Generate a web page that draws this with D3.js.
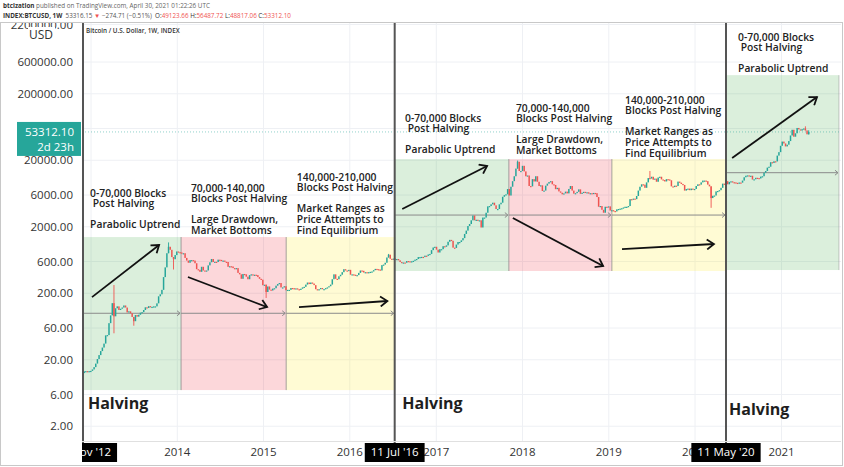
<!DOCTYPE html>
<html>
<head>
<meta charset="utf-8">
<script src="https://cdn.jsdelivr.net/npm/d3@7"></script>
<style>
  body { margin: 0; background: #fff; }
  svg { display: block; font-family: "Open Sans", sans-serif; }
  .note { white-space: pre; }
</style>
</head>
<body>
<svg width="844" height="467"></svg>
<script>
// weekly closes (USD), first candle = week of Mon 26 Nov 2012
var firstWeek = "2012-11-26";
var firstOpen = 12.3;
var lastOpen = 49123.66;
var closes2012 = [12.6, 13.4, 13.5, 13.4, 13.5];
var closes2013 = [13.6, 14.3, 15.5, 17.5, 20.5, 23.5, 27, 30.5, 35, 46.5, 47, 71, 93, 142, 90, 119, 127, 112, 117, 122, 131,
    122, 103, 107, 100, 88, 76, 94, 89, 95, 102, 104, 112, 123, 120, 128, 124, 125, 127, 127, 141, 180, 193,
    225, 350, 490, 800, 1000, 900, 700, 650, 750];
var closes2014 = [850, 830, 820, 800, 800, 680, 620, 575, 630, 630, 620, 565, 460, 450, 420, 500, 440, 430, 440, 525, 585,
    655, 590, 595, 590, 640, 635, 620, 620, 595, 590, 500, 510, 505, 478, 475, 478, 405, 385, 330, 390, 385, 355,
    325, 375, 385, 375, 380, 375, 350, 330, 320];
var closes2015 = [264, 269, 209, 253, 227, 220, 235, 238, 260, 275, 285, 245, 245, 255, 222, 225, 225, 240, 238, 237, 237,
    230, 224, 234, 245, 250, 270, 290, 275, 290, 280, 265, 230, 228, 230, 240, 230, 231, 239, 245, 255, 270, 325,
    385, 330, 325, 360, 380, 415, 460, 440, 430];
var closes2016 = [450, 380, 385, 380, 370, 375, 405, 440, 435, 410, 415, 410, 415, 420, 425, 445, 465, 460, 455, 440, 530,
    540, 575, 690, 760, 660, 650, 665, 650, 655, 625, 590, 570, 580, 575, 610, 605, 600, 605, 615, 640, 655, 700,
    700, 705, 700, 735, 730, 765, 780, 890, 975];
var closes2017 = [1000, 905, 820, 920, 920, 1020, 1000, 1050, 1190, 1270, 1230, 970, 960, 1080, 1180, 1180, 1250, 1350,
    1560, 1750, 2050, 2200, 2500, 2950, 2500, 2550, 2500, 2500, 1950, 2750, 2750, 3250, 4050, 4100, 4350, 4600,
    4200, 3700, 3700, 4350, 4600, 5650, 5980, 6150, 7380, 5900, 8000, 9700, 11500, 15000, 19000, 13800, 13800];
var closes2018 = [16500, 13600, 11500, 11800, 8200, 8100, 10400, 9600, 11500, 9500, 8200, 8400, 6900, 7000, 8300, 8900,
    9400, 9700, 8700, 8500, 7350, 7700, 6800, 6500, 6150, 6350, 6750, 6350, 7400, 8200, 7000, 6300, 6400, 6700,
    7300, 6250, 6500, 6700, 6600, 6600, 6300, 6400, 6350, 6450, 6400, 5600, 4000, 4100, 3600, 3250, 4000, 3900];
var closes2019 = [4050, 3500, 3550, 3450, 3400, 3650, 3700, 3750, 3800, 3900, 4000, 4000, 4100, 5200, 5100, 5300, 5200,
    5800, 7000, 8000, 8700, 8600, 7700, 9300, 10800, 10600, 11300, 10200, 10600, 9500, 11000, 11300, 10300, 10100,
    9600, 10400, 10300, 10000, 8100, 7900, 8300, 8200, 9550, 9200, 8800, 8500, 7000, 7400, 7500, 7100, 7500, 7400];
var closes2020 = [7400, 8200, 8700, 8600, 9300, 9900, 9900, 9700, 8600, 8100, 5400, 5850, 5900, 6800, 6900, 7100, 7700,
    8900, 8750, 9700, 8700, 9450, 9650, 9350, 9300, 9150, 9100, 9250, 9200, 9900, 11100, 11700, 11850, 11650,
    11700, 10250, 10350, 10900, 10800, 10650, 11350, 11500, 13000, 13800, 15500, 16000, 18700, 18200, 19300,
    19200, 23500, 26500];
var closes2021 = [33000, 38200, 35800, 32300, 34300, 38900, 47200, 57500, 45200, 50900, 61200, 58300, 55900, 58800,
    60100, 56200, 49100, 53312.10];
// notable wicks: [week start, high, low]
var wicks = [["2013-04-08", 266, 50], ["2013-07-01", null, 65], ["2013-11-25", 1163, null], ["2013-12-16", null, 455],
    ["2015-01-12", null, 170], ["2016-06-13", 780, null], ["2017-12-11", 19800, null], ["2019-06-24", 13800, null],
    ["2020-03-09", null, 3850], ["2021-04-12", 64800, null], ["2021-04-26", 56487.72, 48817.06]];

var halvings = ["2012-11-28", "2016-07-09", "2020-05-11"];
var halvingTags = ["28 Nov '12", "11 Jul '16", "11 May '20"];
var halvingLabelDates = ["2012-12-19", "2016-08-10", "2020-05-24"];
var halvingLabelPrices = [4.47, 4.47, 3.63];
var yearTicks = [2013, 2014, 2015, 2016, 2017, 2018, 2019, 2020, 2021];
var priceTicks = [2, 6, 20, 60, 200, 600, 2000, 6000, 20000, 60000, 200000, 600000, 2200000];
var lastPrice = 53312.10;
var countdown = "2d 23h";

// phases of each halving cycle
var phaseKinds = ["up", "down", "range", "up", "down", "range", "up"];
var phaseStarts = ["2012-11-28", "2014-01-17", "2015-04-07", "2016-07-09", "2017-11-04", "2019-01-14", "2020-05-11"];
var phaseEnds = ["2014-01-17", "2015-04-07", "2016-07-09", "2017-11-04", "2019-01-14", "2020-05-11", "2021-09-01"];
var phaseHigh = [1400, 1400, 1400, 20800, 20800, 20800, 381000];
var phaseLow = [7, 7, 7, 432, 432, 432, 447];
var phaseMid = [100, 100, 100, 3000, 3000, 3000, 13000];
var upNote = ["0-70,000 Blocks", " Post Halving", "", "Parabolic Uptrend"];
var downNote = ["70,000-140,000", "Blocks Post Halving", "", "Large Drawdown,", "Market Bottoms"];
var rangeNote = ["140,000-210,000", "Blocks Post Halving", "", "Market Ranges as", "Price Attempts to", "Find Equilibrium"];
var noteDates = ["2012-12-28", "2014-02-28", "2015-05-22", "2016-08-22", "2017-12-04", "2019-03-11", "2020-07-01"];
var notePrices = [6430, 7640, 11190, 86300, 122000, 161000, 1425000];
var arrowFrom = [["2013-01-05", 175], ["2014-02-15", 351], ["2015-05-31", 124], ["2016-08-10", 3695],
    ["2017-11-21", 2705], ["2019-02-26", 925], ["2020-06-06", 21600]];
var arrowTo = [["2013-10-16", 1063], ["2015-01-16", 124], ["2016-06-08", 153], ["2017-08-04", 16400],
    ["2018-12-08", 513], ["2020-03-21", 1100], ["2021-05-31", 178600]];

var publishLine = [["btcization", "#333", 700], [" published on TradingView.com, April 30, 2021 01:22:26 UTC", "#666", 400]];
var symbolLine = [["INDEX:BTCUSD, 1W", "#333", 700], ["  53316.15 ", "#555", 400], ["\u25BC", "#ef5350", 400],
    [" \u2212274.71 (\u22120.51%)  ", "#555", 400], ["O:", "#333", 400], ["49123.66", "#ef5350", 400],
    [" H:", "#333", 400], ["56487.72", "#ef5350", 400], [" L:", "#333", 400], ["48817.06", "#ef5350", 400],
    [" C:", "#333", 400], ["53312.10", "#ef5350", 400]];
var seriesTitle = "Bitcoin / U.S. Dollar, 1W, INDEX";

var svg, margin, width, height, xScale, yScale, g;
var parseDate = d3.utcParse("%Y-%m-%d");
var fmtDate = d3.utcFormat("%Y-%m-%d");
var phaseFill = {up: "rgba(76,175,80,0.2)", down: "rgba(242,54,69,0.2)", range: "rgba(255,235,59,0.22)"};
var noteText = {up: upNote, down: downNote, range: rangeNote};
var upColor = "#26a69a", downColor = "#ef5350";

function yearDate(y) {
    return new Date(Date.UTC(y, 0, 1));
}

function initLayout() {
    svg = d3.select("svg");
    margin = {top: 22, right: 3, bottom: 26, left: 82};
    width = +svg.attr("width") - margin.left - margin.right;
    height = +svg.attr("height") - margin.top - margin.bottom;

    xScale = d3.scaleUtc()
        .domain([parseDate(halvings[0]), parseDate(halvings[2])])
        .range([1, 644]);
    yScale = d3.scaleLog().domain([1.2, 2.4e6]).range([height, 0]);

    var defs = svg.append("defs");
    defs.append("clipPath").attr("id", "plotClip")
        .append("rect").attr("width", width).attr("height", height);
    defs.append("clipPath").attr("id", "yClip")
        .append("rect").attr("x", -margin.left).attr("y", 0).attr("width", margin.left).attr("height", height);
    defs.append("clipPath").attr("id", "xClip")
        .append("rect").attr("x", 0).attr("y", height).attr("width", width).attr("height", margin.bottom);
    defs.append("marker").attr("id", "arrowHead")
        .attr("markerUnits", "userSpaceOnUse")
        .attr("markerWidth", 12).attr("markerHeight", 12)
        .attr("refX", 8).attr("refY", 6).attr("orient", "auto")
        .append("path").attr("d", "M1,1 L8,6 L1,11")
        .attr("fill", "none").attr("stroke", "#111").attr("stroke-width", 1.8);
    defs.append("marker").attr("id", "rangeHead")
        .attr("markerUnits", "userSpaceOnUse")
        .attr("markerWidth", 6).attr("markerHeight", 6)
        .attr("refX", 4).attr("refY", 3).attr("orient", "auto")
        .append("path").attr("d", "M1,0.5 L4,3 L1,5.5")
        .attr("fill", "none").attr("stroke", "#888").attr("stroke-width", 1);

    g = svg.append("g")
        .attr("transform", "translate(" + [margin.left, margin.top] + ")");
}

function drawGrid() {
    var grid = g.append("g").attr("clip-path", "url(#plotClip)");
    grid.selectAll(".vgrid")
        .data(yearTicks)
        .enter().append("line")
        .attr("x1", function (d) { return xScale(yearDate(d)); })
        .attr("x2", function (d) { return xScale(yearDate(d)); })
        .attr("y1", 0).attr("y2", height)
        .attr("stroke", "#eef0f4");
    grid.selectAll(".hgrid")
        .data(priceTicks)
        .enter().append("line")
        .attr("x1", 0).attr("x2", width)
        .attr("y1", function (d) { return yScale(d); })
        .attr("y2", function (d) { return yScale(d); })
        .attr("stroke", "#eef0f4");
}

function drawPhases() {
    var layer = g.append("g").attr("clip-path", "url(#plotClip)");
    phaseKinds.forEach(function (kind, i) {
        var x0 = xScale(parseDate(phaseStarts[i])), x1 = xScale(parseDate(phaseEnds[i]));
        var y0 = yScale(phaseHigh[i]), y1 = yScale(phaseLow[i]);
        layer.append("rect")
            .attr("x", x0).attr("y", y0)
            .attr("width", x1 - x0).attr("height", y1 - y0)
            .attr("fill", phaseFill[kind]);
        [x0, x1].forEach(function (x) {
            layer.append("line")
                .attr("x1", x).attr("x2", x).attr("y1", y0).attr("y2", y1)
                .attr("stroke", "#9a9a9a").attr("stroke-opacity", 0.55);
        });
        layer.append("line")
            .attr("x1", x0).attr("x2", x1 - 1)
            .attr("y1", yScale(phaseMid[i])).attr("y2", yScale(phaseMid[i]))
            .attr("stroke", "#8a8a8a")
            .attr("marker-end", "url(#rangeHead)");
    });
}

function drawPriceLine() {
    g.append("line")
        .attr("x1", 0).attr("x2", width)
        .attr("y1", yScale(lastPrice)).attr("y2", yScale(lastPrice))
        .attr("stroke", upColor).attr("stroke-opacity", 0.5)
        .attr("stroke-dasharray", "1,2");
}

function drawCandles() {
    var closes = [].concat(closes2012, closes2013, closes2014, closes2015, closes2016,
        closes2017, closes2018, closes2019, closes2020, closes2021);
    var start = parseDate(firstWeek);
    var wickMap = {};
    wicks.forEach(function (w) { wickMap[w[0]] = w; });

    var data = closes.map(function (c, i) {
        var date = d3.utcDay.offset(start, 7 * i);
        var o = i === 0 ? firstOpen : (i === closes.length - 1 ? lastOpen : closes[i - 1]);
        var w = wickMap[fmtDate(date)];
        var hi = Math.max(o, c), lo = Math.min(o, c);
        if (w && w[1] != null) hi = Math.max(hi, w[1]);
        if (w && w[2] != null) lo = Math.min(lo, w[2]);
        return {date: date, open: o, close: c, high: hi, low: lo};
    });

    var step = xScale(d3.utcDay.offset(start, 7)) - xScale(start);
    var bw = Math.max(1, step * 0.9);
    var layer = g.append("g").attr("clip-path", "url(#plotClip)");

    layer.selectAll(".wick")
        .data(data.filter(function (d) { return d.high > Math.max(d.open, d.close) || d.low < Math.min(d.open, d.close); }))
        .enter().append("line")
        .attr("x1", function (d) { return xScale(d.date); })
        .attr("x2", function (d) { return xScale(d.date); })
        .attr("y1", function (d) { return yScale(d.high); })
        .attr("y2", function (d) { return yScale(d.low); })
        .attr("stroke", function (d) { return d.close >= d.open ? upColor : downColor; })
        .attr("stroke-width", 0.9);

    layer.selectAll(".candle")
        .data(data)
        .enter().append("rect")
        .attr("x", function (d) { return xScale(d.date) - bw / 2; })
        .attr("y", function (d) { return yScale(Math.max(d.open, d.close)); })
        .attr("width", bw)
        .attr("height", function (d) {
            return Math.max(1.2, yScale(Math.min(d.open, d.close)) - yScale(Math.max(d.open, d.close)));
        })
        .attr("fill", function (d) { return d.close >= d.open ? upColor : downColor; });
}

function drawHalvings() {
    g.selectAll(".halving")
        .data(halvings)
        .enter().append("line")
        .attr("x1", function (d) { return xScale(parseDate(d)); })
        .attr("x2", function (d) { return xScale(parseDate(d)); })
        .attr("y1", 0).attr("y2", height + 2)
        .attr("stroke", "#555").attr("stroke-width", 2);

    g.selectAll(".halvingLabel")
        .data(halvingLabelDates)
        .enter().append("text")
        .attr("x", function (d) { return xScale(parseDate(d)); })
        .attr("y", function (d, i) { return yScale(halvingLabelPrices[i]); })
        .attr("dy", "0.35em")
        .attr("font-size", 16).attr("font-weight", 700)
        .attr("fill", "#1e1e1e")
        .text("Halving");
}

function drawNotes() {
    var layer = g.append("g");
    phaseKinds.forEach(function (kind, i) {
        var x = xScale(parseDate(noteDates[i]));
        var t = layer.append("text")
            .attr("class", "note")
            .attr("x", x)
            .attr("y", yScale(notePrices[i]))
            .attr("font-size", 10.3).attr("font-weight", 600)
            .attr("fill", "#222");
        noteText[kind].forEach(function (line, j) {
            if (line === "") return;
            t.append("tspan")
                .attr("x", x)
                .attr("y", yScale(notePrices[i]) + j * 10.6)
                .attr("dy", "0.35em")
                .text(line);
        });
    });

    layer.selectAll(".arrow")
        .data(arrowFrom)
        .enter().append("line")
        .attr("x1", function (d) { return xScale(parseDate(d[0])); })
        .attr("y1", function (d) { return yScale(d[1]); })
        .attr("x2", function (d, i) { return xScale(parseDate(arrowTo[i][0])); })
        .attr("y2", function (d, i) { return yScale(arrowTo[i][1]); })
        .attr("stroke", "#111").attr("stroke-width", 1.8)
        .attr("marker-end", "url(#arrowHead)");
}

function drawYAxis() {
    var axis = g.append("g").attr("clip-path", "url(#yClip)");
    var yP = yScale(lastPrice);
    // the last-price badge covers the tick next to it
    var shown = priceTicks.filter(function (d) { return Math.abs(yScale(d) - (yP + 7)) > 18; });
    axis.selectAll(".ytick")
        .data(shown)
        .enter().append("text")
        .attr("x", -9)
        .attr("y", function (d) { return yScale(d); })
        .attr("dy", "0.35em")
        .attr("text-anchor", "end")
        .attr("font-size", 11.5)
        .attr("fill", "#333")
        .text(d3.format(".2f"));

    // unit label on top of the first tick
    axis.append("rect")
        .attr("x", -54).attr("y", 5).attr("width", 27).attr("height", 16)
        .attr("fill", "#fff");
    axis.append("text")
        .attr("x", -41).attr("y", 13).attr("dy", "0.35em")
        .attr("text-anchor", "middle")
        .attr("font-size", 12).attr("fill", "#333")
        .text("USD");

    // last price badge
    axis.append("rect")
        .attr("x", -65).attr("y", yP - 10).attr("width", 64).attr("height", 34)
        .attr("fill", upColor);
    axis.append("text")
        .attr("x", -8).attr("y", yP).attr("dy", "0.35em")
        .attr("text-anchor", "end").attr("font-size", 11.5).attr("fill", "#fff")
        .text(d3.format(".2f")(lastPrice));
    axis.append("text")
        .attr("x", -8).attr("y", yP + 15).attr("dy", "0.35em")
        .attr("text-anchor", "end").attr("font-size", 11.5).attr("fill", "#fff")
        .text(countdown);
}

function drawXAxis() {
    var axis = g.append("g").attr("clip-path", "url(#xClip)");
    var ly = height + 11;
    var tags = halvings.map(function (d) { return xScale(parseDate(d)); });
    // years whose label sits wholly under a halving tag are not visible
    var shown = yearTicks.filter(function (y) {
        var x = xScale(yearDate(y));
        return !tags.some(function (t) { return Math.abs(x - t) < 20; });
    });
    axis.selectAll(".xtick")
        .data(shown)
        .enter().append("text")
        .attr("x", function (d) { return xScale(yearDate(d)); })
        .attr("y", ly).attr("dy", "0.35em")
        .attr("text-anchor", "middle")
        .attr("font-size", 11.5).attr("fill", "#333")
        .text(function (d) { return d; });

    halvings.forEach(function (d, i) {
        var x = tags[i];
        var tag = axis.append("g");
        var txt = tag.append("text")
            .attr("x", x).attr("y", ly).attr("dy", "0.35em")
            .attr("text-anchor", "middle")
            .attr("font-size", 11.5).attr("fill", "#fff")
            .text(halvingTags[i]);
        var w = txt.node().getComputedTextLength() + 12;
        tag.insert("rect", "text")
            .attr("x", x - w / 2).attr("y", height + 2)
            .attr("width", w).attr("height", 19)
            .attr("fill", "#000");
    });
}

function drawFrame() {
    svg.append("rect")
        .attr("x", 0.5).attr("y", margin.top + 0.5)
        .attr("width", +svg.attr("width") - 2).attr("height", +svg.attr("height") - margin.top - 2)
        .attr("fill", "none").attr("stroke", "#c8c8c8");
    svg.append("line")
        .attr("x1", margin.left).attr("x2", margin.left + width)
        .attr("y1", margin.top + height + 0.5).attr("y2", margin.top + height + 0.5)
        .attr("stroke", "#e0e0e0");
}

function drawHeader() {
    [publishLine, symbolLine].forEach(function (parts, i) {
        var t = svg.append("text")
            .attr("x", 3).attr("y", 8 + i * 10)
            .attr("font-size", 6.3)
            .style("white-space", "pre");
        parts.forEach(function (p) {
            t.append("tspan").attr("fill", p[1]).attr("font-weight", p[2]).text(p[0]);
        });
    });
    g.append("text")
        .attr("x", 4).attr("y", 11)
        .attr("font-size", 6.3).attr("font-weight", 600)
        .attr("fill", "#333")
        .text(seriesTitle);
}

initLayout();
drawGrid();
drawPhases();
drawPriceLine();
drawCandles();
drawHalvings();
drawNotes();
drawYAxis();
drawXAxis();
drawFrame();
drawHeader();
</script>
</body>
</html>
